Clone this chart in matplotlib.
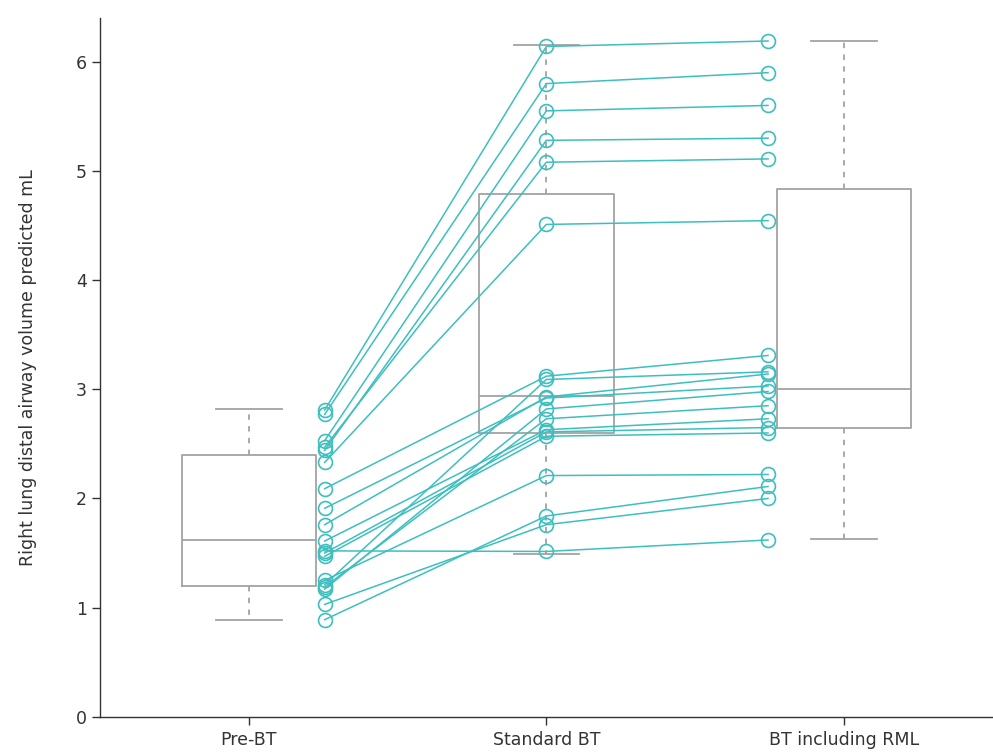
import numpy as np
from matplotlib import pyplot as plt

# per-subject values (mL), same order in each list
pre_bt = [2.81, 2.77, 2.53, 2.44, 2.47, 2.33,
          2.09, 1.21, 1.76, 1.91, 1.17, 1.19, 1.61, 1.50, 1.47, 1.25, 0.89, 1.03, 1.52]
standard_bt = [6.14, 5.80, 5.55, 5.28, 5.08, 4.51,
               3.12, 3.09, 2.93, 2.92, 2.82, 2.73, 2.63, 2.61, 2.57, 2.21, 1.84, 1.76, 1.515]
bt_rml = [6.19, 5.90, 5.60, 5.30, 5.11, 4.545,
          3.31, 3.16, 3.14, 3.03, 2.98, 2.85, 2.73, 2.65, 2.60, 2.22, 2.11, 2.00, 1.62]

groups = ["Pre-BT", "Standard BT", "BT including RML"]
# box summaries: low whisker, q1, median, q3, high whisker
box_lo = [0.89, 1.49, 1.63]
box_q1 = [1.20, 2.60, 2.65]
box_med = [1.62, 2.94, 3.00]
box_q3 = [2.40, 4.79, 4.83]
box_hi = [2.82, 6.15, 6.19]

teal = '#3dbfc0'
grey = '#a3a3a3'

fig = plt.figure(figsize=(9.93, 7.53), dpi=100)
ax = fig.add_axes([0.1007, 0.048, 0.899, 0.928])

pos = np.arange(1, len(groups) + 1)
stats = []
for i in range(len(groups)):
    stats.append(dict(whislo=box_lo[i], q1=box_q1[i], med=box_med[i],
                      q3=box_q3[i], whishi=box_hi[i], fliers=[]))

ax.bxp(stats, positions=pos, widths=0.452, capwidths=0.22, showfliers=False,
       boxprops=dict(color=grey, lw=1.3),
       medianprops=dict(color=grey, lw=1.3),
       whiskerprops=dict(color=grey, lw=1.3, ls=(0, (3, 3.5))),
       capprops=dict(color=grey, lw=1.3))

# subject trajectories
xs = [pos[0] + 0.255, pos[1], pos[2] - 0.255]
for a, b, c in zip(pre_bt, standard_bt, bt_rml):
    ax.plot(xs, [a, b, c], '-o', color=teal, lw=1.1, ms=10,
            mfc='none', mec=teal, mew=1.2, zorder=3)

ax.set_xlim(0.5, 3.5)
ax.set_ylim(0, 6.4)
ax.set_yticks(range(0, 7))
ax.set_xticks(pos)
ax.set_xticklabels(groups)

for s in ['top', 'right']:
    ax.spines[s].set_visible(False)
for s in ['left', 'bottom']:
    ax.spines[s].set_color('#333333')
    ax.spines[s].set_linewidth(1.0)
ax.tick_params(axis='both', colors='#333333', labelsize=12.5, length=6, width=1.0)
ax.tick_params(axis='x', pad=4)

ax.set_ylabel("Right lung distal airway volume predicted mL", fontsize=12.5,
              color='#333333', labelpad=28)

fig.savefig("out.png", dpi=100)
